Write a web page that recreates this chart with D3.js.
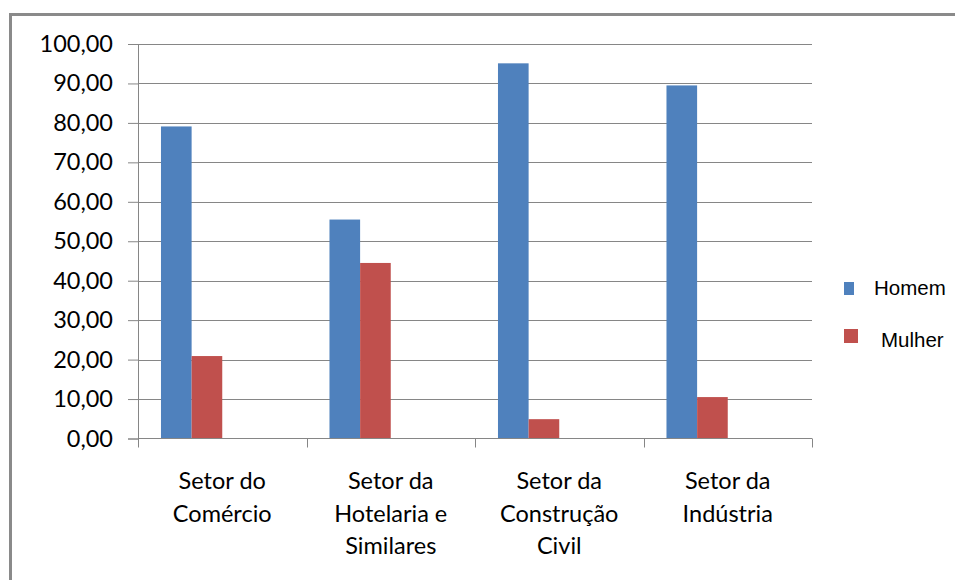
<!DOCTYPE html>
<html>
<head>
<meta charset="utf-8">
<script src="https://cdn.jsdelivr.net/npm/d3@7"></script>
<style>
  html, body { margin: 0; padding: 0; background: #fff; }
  svg { display: block; }
</style>
</head>
<body>
<svg id="chart" width="955" height="580"></svg>
<script>
// Sector categories (multi-line labels) and share of each gender, in %
const categories = [
  ["Setor do", "Comércio"],
  ["Setor da", "Hotelaria e", "Similares"],
  ["Setor da", "Construção", "Civil"],
  ["Setor da", "Indústria"]
];
const seriesNames = ["Homem", "Mulher"];
const homem  = [79.1, 55.5, 95.1, 89.5];
const mulher = [20.9, 44.5, 4.9, 10.5];
const yTicks = [0, 10, 20, 30, 40, 50, 60, 70, 80, 90, 100];
const colors = ["#4F81BD", "#C0504D"];

const svg = d3.select("#chart");
const plotLeft = 138, plotRight = 812, plotTop = 44, plotBottom = 438.5;
const axisColor = "#868686";
const labelFont = "Lato, 'Open Sans', sans-serif";
const labelSize = 23.5;

// Outer frame
svg.append("rect")
  .attr("x", 10.5).attr("y", 14.5)
  .attr("width", 960).attr("height", 600)
  .attr("fill", "none").attr("stroke", "#8a8a8a").attr("stroke-width", 3);

const catKeys = categories.map((c, i) => i);
const x0 = d3.scaleBand().domain(catKeys).range([plotLeft, plotRight]).padding(0);
// Excel-style cluster: four slots with a 150% gap, the two series fill the first two
const slot = x0.bandwidth() / 5.5;
const x1 = d3.scaleBand().domain(seriesNames)
  .range([slot * 0.75, slot * 2.75]).padding(0);
const y = d3.scaleLinear().domain([0, 100]).range([plotBottom, plotTop]);

// Gridlines + y axis
const yAxis = d3.axisLeft(y).tickValues(yTicks).tickSize(10).tickPadding(15)
  .tickFormat(d => d3.format(".2f")(d).replace(".", ","));
const gy = svg.append("g").attr("transform", `translate(${plotLeft},0)`).call(yAxis);
gy.select(".domain").attr("stroke", axisColor);
gy.selectAll(".tick line").attr("stroke", axisColor);
gy.selectAll(".tick text").attr("font-family", labelFont).attr("font-size", labelSize)
  .attr("fill", "#000");

svg.append("g").selectAll("line").data(yTicks.filter(d => d > 0)).join("line")
  .attr("x1", plotLeft).attr("x2", plotRight)
  .attr("y1", d => Math.round(y(d)) + 0.5).attr("y2", d => Math.round(y(d)) + 0.5)
  .attr("stroke", axisColor);

// Bars
const rows = catKeys.map(i => ({ i, vals: [homem[i], mulher[i]] }));
const groups = svg.append("g").selectAll("g").data(rows).join("g")
  .attr("transform", d => `translate(${x0(d.i)},0)`);
groups.selectAll("rect").data(d => d.vals.map((v, k) => ({ v, k })))
  .join("rect")
  .attr("x", d => x1(seriesNames[d.k]))
  .attr("width", x1.bandwidth())
  .attr("y", d => y(d.v))
  .attr("height", d => y(0) - y(d.v))
  .attr("fill", d => colors[d.k]);

// X axis with category ticks on band boundaries
const xg = svg.append("g");
xg.append("line").attr("x1", plotLeft).attr("x2", plotRight)
  .attr("y1", plotBottom).attr("y2", plotBottom).attr("stroke", axisColor);
const bounds = catKeys.map(i => x0(i)).concat([plotRight]);
xg.selectAll("line.tk").data(bounds).join("line").attr("class", "tk")
  .attr("x1", d => Math.round(d) + 0.5).attr("x2", d => Math.round(d) + 0.5)
  .attr("y1", plotBottom).attr("y2", plotBottom + 9).attr("stroke", axisColor);

const catText = xg.selectAll("text").data(catKeys).join("text")
  .attr("x", i => x0(i) + x0.bandwidth() / 2)
  .attr("y", 489)
  .attr("text-anchor", "middle")
  .attr("font-family", labelFont).attr("font-size", labelSize).attr("fill", "#000");
catText.selectAll("tspan").data(i => categories[i]).join("tspan")
  .attr("x", function () { return d3.select(this.parentNode).attr("x"); })
  .attr("dy", (d, j) => j === 0 ? 0 : 32.5)
  .text(d => d);

// Legend
const legend = svg.append("g").selectAll("g").data(seriesNames).join("g")
  .attr("transform", (d, k) => `translate(844,${282 + k * 47})`);
legend.append("rect")
  .attr("width", (d, k) => k === 0 ? 10 : 14)
  .attr("height", (d, k) => k === 0 ? 13 : 14)
  .attr("fill", (d, k) => colors[k]);
legend.append("text")
  .attr("x", (d, k) => k === 0 ? 30 : 37)
  .attr("y", (d, k) => k === 0 ? 13 : 18)
  .attr("font-family", "'Liberation Sans', Arial, sans-serif")
  .attr("font-size", 20.5).attr("fill", "#000")
  .text(d => d);
</script>
</body>
</html>
